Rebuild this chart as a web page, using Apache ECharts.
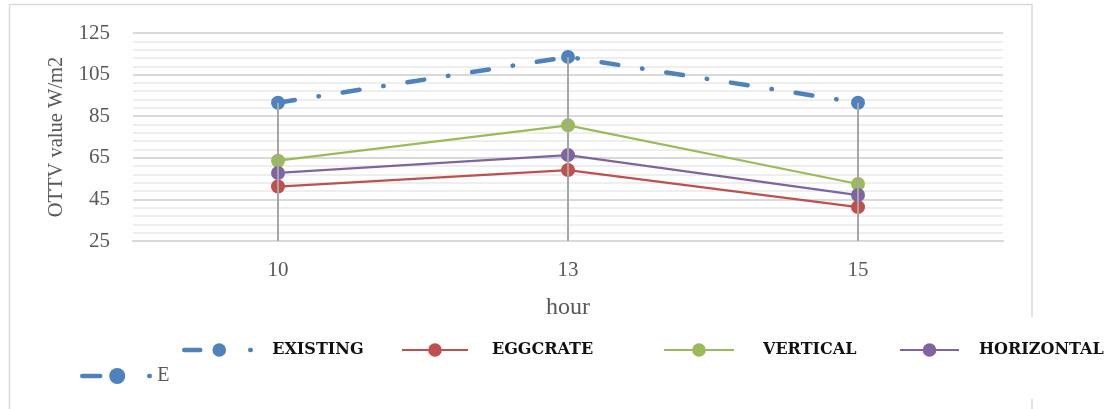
<!DOCTYPE html>
<html>
<head>
<meta charset="utf-8">
<script src="https://cdn.jsdelivr.net/npm/echarts@6/dist/echarts.min.js"></script>
<style>
html,body{margin:0;padding:0;background:#fff;}
#chart{width:1109px;height:409px;}
</style>
</head>
<body>
<div id="chart"></div>
<script>
// ---- data ----
var hours = ['10', '13', '15'];
var existing = [91.5, 113.5, 91.5];
var eggcrate = [51.2, 59.1, 41.3];
var vertical = [63.6, 80.6, 52.4];
var horizontal = [57.7, 66.3, 47.1];
var yTicks = [25, 45, 65, 85, 105, 125];
var seriesNames = ['EXISTING', 'EGGCRATE', 'VERTICAL', 'HORIZONTAL'];

var yMin = yTicks[0], yMax = yTicks[yTicks.length - 1];
var colors = { EXISTING: '#4F81BD', EGGCRATE: '#C0504D', VERTICAL: '#9BBB59', HORIZONTAL: '#8064A2' };

// split line colours, one line per unit: major every 20, minor every 4
var splitColors = [];
for (var k = 0; k < 20; k++) {
  splitColors.push(k === 0 ? '#d9d9d9' : (k % 4 === 0 ? '#eeeeee' : 'rgba(0,0,0,0)'));
}

var serif = 'Liberation Serif';
var legendText = { fontFamily: 'DejaVu Serif', fontWeight: 'bold', fontSize: 16, color: '#111' };

function rowLegend(name, left, itemWidth, padLeft, extra) {
  var l = {
    show: true,
    data: [name],
    left: left,
    top: 342,
    orient: 'horizontal',
    itemWidth: itemWidth,
    itemHeight: 17,
    padding: 0,
    selectedMode: false,
    textStyle: Object.assign({ padding: [0, 0, 10, padLeft] }, legendText)
  };
  if (extra) Object.assign(l, extra);
  return l;
}

var chart = echarts.init(document.getElementById('chart'), null, { renderer: 'canvas' });

var option = {
  animation: false,
  backgroundColor: '#ffffff',
  graphic: [
    { type: 'rect', z: 0, shape: { x: 9.5, y: 4.5, width: 1022.5, height: 420 },
      style: { fill: 'none', stroke: '#d9d9d9', lineWidth: 1.5 } },
    { type: 'rect', z: 1, shape: { x: 1020, y: 317, width: 30, height: 82 },
      style: { fill: '#ffffff' } }
  ],
  grid: { left: 133, right: 106, top: 33, bottom: 168, containLabel: false },
  legend: [
    rowLegend('EXISTING', 182, 70, 13, { lineStyle: { type: [16, 50, 0.5, 100], width: 4.5, cap: 'round' } }),
    rowLegend('EGGCRATE', 401, 66, 19),
    rowLegend('VERTICAL', 663, 70, 24),
    rowLegend('HORIZONTAL', 899, 59, 15),
    {
      show: true, data: ['EXISTING'], left: 80, top: 366, itemWidth: 70, itemHeight: 20, padding: 0,
      selectedMode: false,
      lineStyle: { type: [18, 49, 0.5, 100], width: 4.5, cap: 'round' },
      textStyle: { fontFamily: serif, fontSize: 20, color: '#595959', width: 16, overflow: 'truncate', ellipsis: '', padding: [0, 0, 0, 0] }
    }
  ],
  xAxis: {
    type: 'category',
    data: hours,
    boundaryGap: true,
    name: 'hour',
    nameLocation: 'middle',
    nameGap: 55,
    nameTextStyle: { fontFamily: serif, fontSize: 24, color: '#595959' },
    axisLine: { show: true, lineStyle: { color: '#d9d9d9', width: 2 } },
    axisTick: { show: false },
    axisLabel: { margin: 19, fontFamily: serif, fontSize: 21, color: '#595959' },
    splitLine: { show: false }
  },
  yAxis: {
    type: 'value',
    min: yMin,
    max: yMax,
    interval: 1,
    name: 'OTTV value W/m2',
    nameLocation: 'middle',
    nameRotate: 90,
    nameGap: 66,
    nameTextStyle: { fontFamily: serif, fontSize: 20.5, color: '#595959' },
    axisLine: { show: false },
    axisTick: { show: false },
    axisLabel: {
      margin: 23, fontFamily: serif, fontSize: 21, color: '#595959',
      formatter: function (v) { return yTicks.indexOf(Math.round(v)) >= 0 ? String(Math.round(v)) : ''; }
    },
    splitLine: { show: true, lineStyle: { color: splitColors, width: 2 } }
  },
  series: [
    {
      name: 'EXISTING', type: 'line', data: existing,
      symbol: 'circle', symbolSize: 14,
      itemStyle: { color: colors.EXISTING },
      lineStyle: { color: colors.EXISTING, width: 4.5, type: [17, 24, 0.5, 24], cap: 'round' },
      markLine: {
        silent: true, symbol: ['none', 'none'], label: { show: false },
        lineStyle: { color: '#a6a6a6', width: 2, type: 'solid' },
        emphasis: { disabled: true },
        data: hours.map(function (h, i) { return [{ coord: [i, existing[i]] }, { coord: [i, yMin] }]; })
      }
    },
    {
      name: 'EGGCRATE', type: 'line', data: eggcrate,
      symbol: 'circle', symbolSize: 14,
      itemStyle: { color: colors.EGGCRATE },
      lineStyle: { color: colors.EGGCRATE, width: 2.25 }
    },
    {
      name: 'VERTICAL', type: 'line', data: vertical,
      symbol: 'circle', symbolSize: 14,
      itemStyle: { color: colors.VERTICAL },
      lineStyle: { color: colors.VERTICAL, width: 2.25 }
    },
    {
      name: 'HORIZONTAL', type: 'line', data: horizontal,
      symbol: 'circle', symbolSize: 14,
      itemStyle: { color: colors.HORIZONTAL },
      lineStyle: { color: colors.HORIZONTAL, width: 2.25 }
    }
  ]
};
chart.setOption(option);
</script>
</body>
</html>
